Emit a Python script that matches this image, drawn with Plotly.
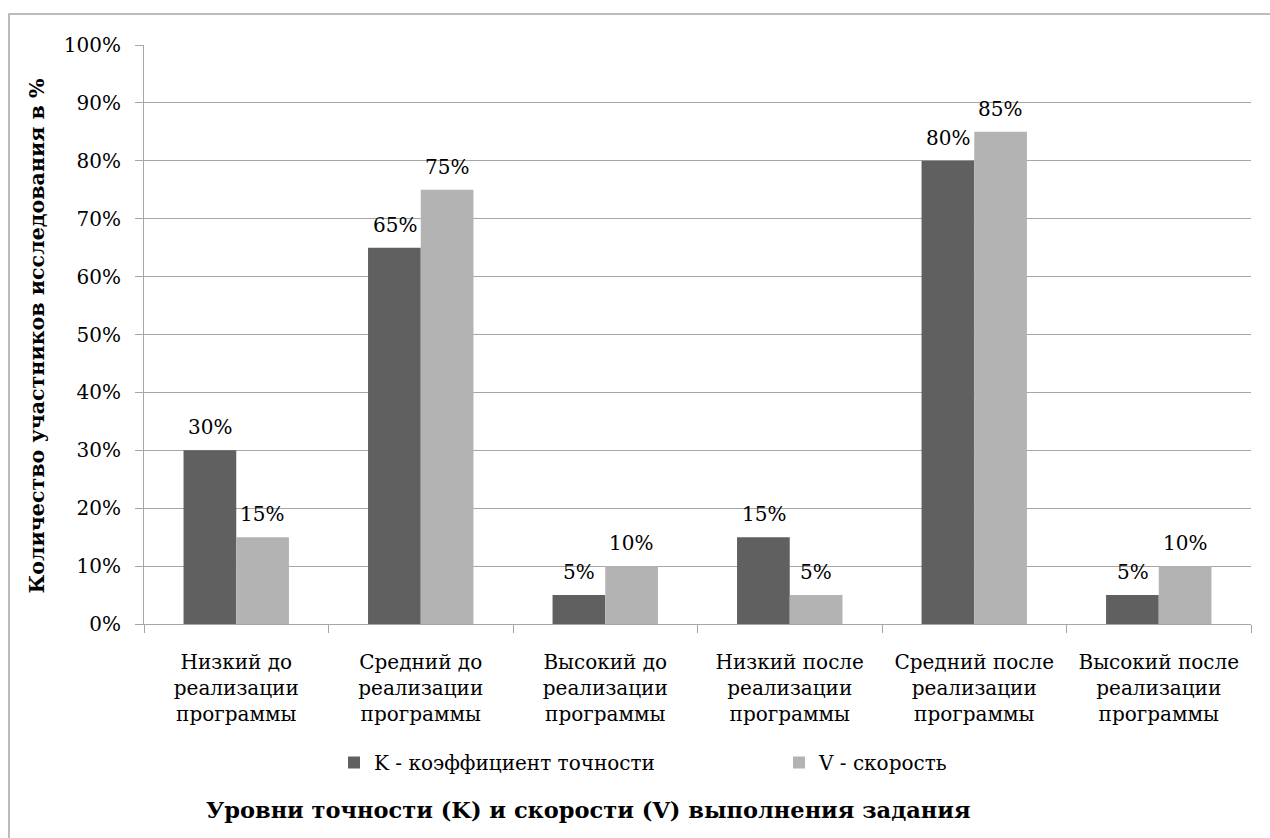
import plotly.graph_objects as go

categories = [
    "Низкий до<br>реализации<br>программы",
    "Средний до<br>реализации<br>программы",
    "Высокий до<br>реализации<br>программы",
    "Низкий после<br>реализации<br>программы",
    "Средний после<br>реализации<br>программы",
    "Высокий после<br>реализации<br>программы",
]
k_values = [0.30, 0.65, 0.05, 0.15, 0.80, 0.05]
v_values = [0.15, 0.75, 0.10, 0.05, 0.85, 0.10]
series_names = ["K - коэффициент точности", "V - скорость"]
y_ticks = [i / 10 for i in range(11)]

FONT = "'DejaVu Serif', 'Liberation Serif', serif"
FS = 20
W, H = 1270, 838
ML, MR, MT, MB = 144, 19, 45, 214

fig = go.Figure()
colors = ["#606060", "#b3b3b3"]
shifts = [-26, 26]
for name, vals, col, sh in zip(series_names, [k_values, v_values], colors, shifts):
    fig.add_trace(go.Bar(
        x=categories, y=vals, name=name,
        marker=dict(color=col, line=dict(width=0)),
    ))
    for c, v in zip(categories, vals):
        fig.add_annotation(x=c, y=v, xref="x", yref="y", text=f"{round(v*100)}%",
                           showarrow=False, xanchor="center", yanchor="bottom",
                           xshift=sh, yshift=9,
                           font=dict(family=FONT, size=FS, color="#000000"))

fig.update_layout(
    width=W, height=H,
    margin=dict(l=ML, r=MR, t=MT, b=MB, pad=0),
    paper_bgcolor="white", plot_bgcolor="white",
    barmode="group", bargap=1.5 / 3.5, bargroupgap=0,
    font=dict(family=FONT, size=FS, color="#000000"),
    showlegend=True,
    legend=dict(orientation="h", xref="container", yref="container",
                x=334 / W, y=1 - 743 / H, xanchor="left", yanchor="top",
                entrywidth=400, entrywidthmode="pixels",
                font=dict(family=FONT, size=FS), itemwidth=30),
)
fig.update_yaxes(range=[0, 1], tickvals=y_ticks, tickformat=".0%",
                 showgrid=True, gridcolor="#a6a6a6", gridwidth=1,
                 showline=True, linecolor="#a6a6a6", linewidth=1,
                 ticks="outside", ticklen=8, tickcolor="#a6a6a6",
                 ticklabelstandoff=10, zeroline=False,
                 tickfont=dict(family=FONT, size=FS, color="#000000"))
fig.update_xaxes(showline=True, linecolor="#a6a6a6", linewidth=1,
                 ticks="outside", ticklen=8, tickcolor="#a6a6a6",
                 tickson="boundaries", showgrid=False, ticklabelstandoff=20,
                 tickfont=dict(family=FONT, size=FS, color="#000000"))

fig.add_annotation(text="<b>Количество участников исследования в %</b>",
                   xref="paper", yref="paper", x=-108 / (W - ML - MR),
                   y=(624 - 335.5) / (H - MT - MB),
                   textangle=-90, showarrow=False, xanchor="center", yanchor="middle",
                   font=dict(family=FONT, size=20.6, color="#000000"))
fig.add_annotation(text="<b>Уровни точности (K) и скорости (V) выполнения задания</b>",
                   xref="paper", yref="paper", x=(588 - ML) / (W - ML - MR),
                   y=-(810 - (H - MB)) / (H - MT - MB),
                   showarrow=False, xanchor="center", yanchor="middle",
                   font=dict(family=FONT, size=22.5, color="#000000"))

fig.add_shape(type="rect", xref="paper", yref="paper",
              x0=-(ML - 9) / (W - ML - MR), x1=1.2,
              y0=-0.5, y1=1 + (MT - 14) / (H - MT - MB),
              line=dict(color="#a6a6a6", width=1.5), layer="below")

fig.write_html("out.html")
